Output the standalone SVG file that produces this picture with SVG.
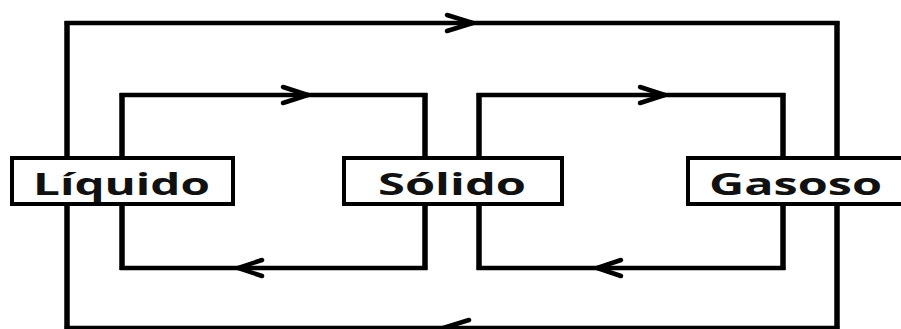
<svg xmlns="http://www.w3.org/2000/svg" width="901" height="329" viewBox="0 0 901 329">
<style>
.h{stroke:#000;stroke-width:4.5;stroke-linecap:square;fill:none}
.v{stroke:#000;stroke-width:5.5;fill:none}
.ar{stroke:#000;stroke-width:4.5;fill:none;stroke-linecap:round;stroke-linejoin:miter}
.box{fill:#fff;stroke:#000;stroke-width:4}
.lbl{font-family:"Open Sans","DejaVu Sans",sans-serif;font-weight:bold;font-size:31px;fill:#111}
</style>
<rect width="901" height="329" fill="#fff"/>
<g id="connectors">
<line class="h" x1="67" y1="23" x2="837" y2="23"/>
<line class="h" x1="67" y1="328" x2="837" y2="328"/>
<line class="v" x1="67" y1="21" x2="67" y2="330"/>
<line class="v" x1="837" y1="21" x2="837" y2="330"/>
<line class="h" x1="122" y1="95" x2="425" y2="95"/>
<line class="h" x1="122" y1="268" x2="425" y2="268"/>
<line class="v" x1="122" y1="93" x2="122" y2="270"/>
<line class="v" x1="425" y1="93" x2="425" y2="270"/>
<line class="h" x1="479" y1="95" x2="783" y2="95"/>
<line class="h" x1="479" y1="268" x2="783" y2="268"/>
<line class="v" x1="479" y1="93" x2="479" y2="270"/>
<line class="v" x1="783" y1="93" x2="783" y2="270"/>
<polyline class="ar" points="447,15 473,23 447,31"/>
<polyline class="ar" points="469,320 443,328 469,336"/>
<polyline class="ar" points="283,87 308,95 283,103"/>
<polyline class="ar" points="640,87 665,95 640,103"/>
<polyline class="ar" points="262,260 238,268 262,276"/>
<polyline class="ar" points="621,260 597,268 621,276"/>
</g>
<g id="liquido">
<rect class="box" x="12" y="158" width="221" height="46"/>
<text class="lbl" x="33" y="195" textLength="177" lengthAdjust="spacingAndGlyphs">Líquido</text>
</g>
<g id="solido">
<rect class="box" x="344" y="158" width="218" height="46"/>
<text class="lbl" x="378" y="195" textLength="148" lengthAdjust="spacingAndGlyphs">Sólido</text>
</g>
<g id="gasoso">
<rect class="box" x="688" y="158" width="230" height="46"/>
<text class="lbl" x="709" y="195" textLength="173" lengthAdjust="spacingAndGlyphs">Gasoso</text>
</g>
</svg>
